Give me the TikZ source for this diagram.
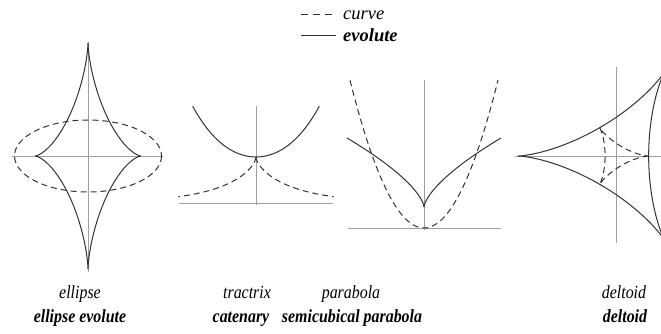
\documentclass[tikz,border=0pt]{standalone}
\usepackage{fontspec}
\setmainfont{Liberation Serif}
\newcommand{\cond}[1]{\scalebox{0.86}[1]{#1}}
\begin{document}
\begin{tikzpicture}[x=1pt,y=-1pt,
  curve/.style={line width=1pt,black!80},
  dashcurve/.style={line width=1pt,black!80,dash pattern=on 6pt off 4pt},
  axis/.style={line width=0.7pt,gray!75},
  lab/.style={font=\fontsize{18.5}{22}\selectfont\itshape,anchor=base,inner sep=0},
  blab/.style={font=\fontsize{18.5}{22}\selectfont\bfseries\itshape,anchor=base,inner sep=0}]
\useasboundingbox (0,0) rectangle (661,334);
% legend
\coordinate (d1) at (301,15); \coordinate (d2) at (336,15);
\coordinate (s1) at (301,36); \coordinate (s2) at (336,36);
\draw[dashcurve,dash pattern=on 7pt off 5pt] (d1) -- (d2);
\draw[curve] (s1) -- (s2);
\node[lab,anchor=base west] (lc) at (343,20) {curve};
\node[blab,anchor=base west] (le) at (343,42) {evolute};
% ellipse panel
\coordinate (eL) at (12,156); \coordinate (eR) at (163,156);
\coordinate (eT) at (88,42); \coordinate (eB) at (88,272);
\draw[axis] (eL) -- (eR);
\draw[axis] (eT) -- (eB);
\draw[dashcurve] (88,156) ellipse [x radius=73.5, y radius=36];
\draw[curve] plot[domain=0:360,samples=241,smooth] ({88+53*cos(\x)*cos(\x)*cos(\x)},{156+113*sin(\x)*sin(\x)*sin(\x)}) -- cycle;
% tractrix panel
\coordinate (tL) at (179,203); \coordinate (tR) at (333,203);
\coordinate (tT) at (256,106); \coordinate (tB) at (256,205);
\draw[axis] (tL) -- (tR);
\draw[axis] (tT) -- (tB);
\draw[curve] plot[domain=-63.3:63.3,samples=80,smooth] ({256+\x},{203-46*cosh(\x/46)});
\draw[dashcurve] plot[domain=0:2.68,samples=60,smooth] ({256+46*(\x-tanh(\x))},{203-46/cosh(\x)});
\draw[dashcurve] plot[domain=0:2.68,samples=60,smooth] ({256-46*(\x-tanh(\x))},{203-46/cosh(\x)});
% parabola panel
\coordinate (pL) at (348,228); \coordinate (pR) at (501,228);
\coordinate (pT) at (424,80); \coordinate (pB) at (424,230);
\draw[axis] (pL) -- (pR);
\draw[axis] (pT) -- (pB);
\draw[dashcurve] plot[domain=-74:74,samples=80,smooth] ({424+\x},{228-0.027*\x*\x});
\draw[curve] plot[domain=-1:0,samples=60,smooth] ({424+77*\x*\x*\x},{228-21-69*\x*\x});
\draw[curve] plot[domain=0:1,samples=60,smooth] ({424+77*\x*\x*\x},{228-21-69*\x*\x});
% deltoid panel
\coordinate (dL) at (515,156); \coordinate (dR) at (661,156);
\coordinate (dT) at (616,67); \coordinate (dB) at (616,243);
\draw[axis] (dL) -- (dR);
\draw[axis] (dT) -- (dB);
\begin{scope}
\clip (0,0) rectangle (661,334);
\draw[curve] plot[domain=0:360,samples=241,smooth] ({616-(2*32.67*cos(\x)+32.67*cos(2*\x))},{156-(2*32.67*sin(\x)-32.67*sin(2*\x))}) -- cycle;
\end{scope}
\draw[dashcurve] plot[domain=0:360,samples=121,smooth] ({616+(2*10.89*cos(\x)+10.89*cos(2*\x))},{156+(2*10.89*sin(\x)-10.89*sin(2*\x))}) -- cycle;
% labels
\node[lab] (n1) at (80,298) {\cond{ellipse}};
\node[blab] (m1) at (80,322) {\cond{ellipse evolute}};
\node[lab] (n2) at (247,298) {\cond{tractrix}};
\node[blab] (m2) at (241,322) {\cond{catenary}};
\node[lab] (n3) at (351,298) {\cond{parabola}};
\node[blab] (m3) at (352,322) {\cond{semicubical parabola}};
\node[lab] (n4) at (624,298) {\cond{deltoid}};
\node[blab] (m4) at (625,322) {\cond{deltoid}};
\end{tikzpicture}
\end{document}
